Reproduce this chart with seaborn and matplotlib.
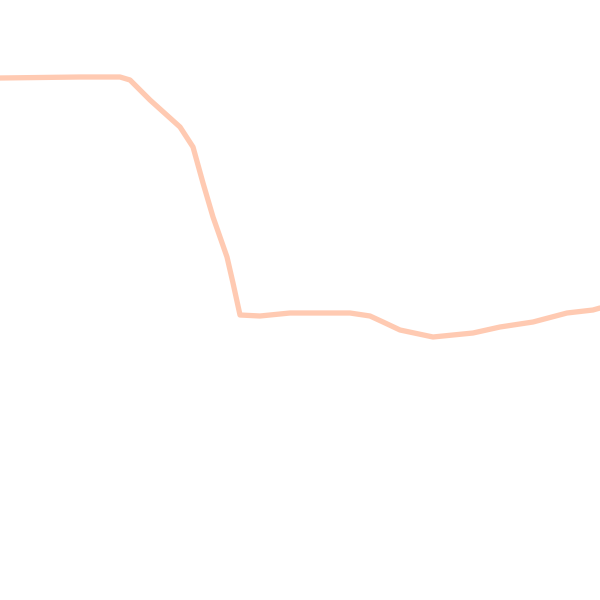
import matplotlib
matplotlib.use("Agg")
import matplotlib.pyplot as plt
import seaborn as sns
import pandas as pd

x_vals = [0, 80, 120, 130, 150, 180, 193, 203, 213, 227, 233, 240, 260, 290,
          350, 370, 383, 400, 433, 473, 500, 533, 567, 593, 600]
y_vals = [522, 523, 523, 520, 500, 473, 453, 417, 383, 343, 317, 285, 284, 287,
          287, 284, 278, 270, 263, 267, 273, 278, 287, 290, 292]

df = pd.DataFrame({"x": x_vals, "y": y_vals})

sns.set_style("white")
fig = plt.figure(figsize=(6, 6), dpi=100)
ax = fig.add_axes([0, 0, 1, 1])

sns.lineplot(data=df, x="x", y="y", ax=ax, color="#ffcab2", linewidth=3.8)

ax.set_xlim(0, 600)
ax.set_ylim(0, 600)
ax.axis("off")

plt.savefig("out.png", dpi=100)
plt.close()
